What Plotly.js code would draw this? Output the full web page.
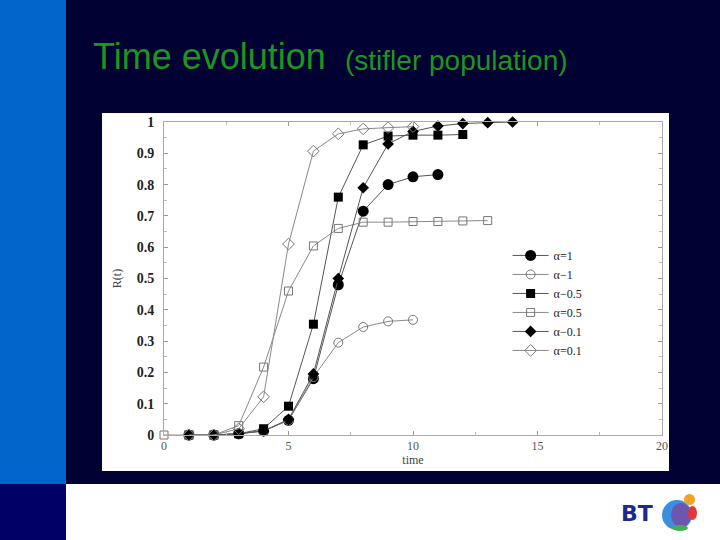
<!DOCTYPE html>
<html>
<head>
<meta charset="utf-8">
<script src="https://cdn.plot.ly/plotly-3.0.1.min.js"></script>
<style>
  html, body { margin: 0; padding: 0; width: 720px; height: 540px; overflow: hidden; background: #ffffff; }
  .blk { position: absolute; }
  #plot { position: absolute; left: 0; top: 0; width: 720px; height: 540px; }
</style>
</head>
<body>
<div class="blk" style="left:0;top:0;width:66px;height:484px;background:#0066cc;"></div>
<div class="blk" style="left:0;top:484px;width:66px;height:56px;background:#000066;"></div>
<div class="blk" style="left:66px;top:0;width:654px;height:484px;background:#000033;"></div>
<div class="blk" style="left:102px;top:113px;width:567px;height:358px;background:#ffffff;"></div>
<!-- BT globe -->
<div class="blk" style="left:662px;top:500px;width:30px;height:30px;border-radius:50%;background:#3b8fe0;"></div>
<div class="blk" style="left:671px;top:503px;width:20px;height:24px;border-radius:50%;background:#6e56b0;"></div>
<div class="blk" style="left:684px;top:494px;width:11px;height:11px;border-radius:50%;background:#f4a224;"></div>
<div class="blk" style="left:688px;top:506px;width:9px;height:14px;border-radius:50%;background:#e2383a;"></div>
<div class="blk" style="left:672px;top:525px;width:16px;height:6px;border-radius:50%;background:#3fb24c;"></div>
<div id="plot"></div>
<script>
// ---- data ----
var seriesNames = ["α=1", "α−1", "α−0.5", "α=0.5", "α−0.1", "α=0.1"];

var tA1  = [1, 2, 3, 4, 5, 6, 7, 8, 9, 10, 11];
var rA1  = [0, 0, 0.004, 0.013, 0.047, 0.18, 0.48, 0.715, 0.80, 0.825, 0.832];

var tAm1 = [1, 2, 3, 4, 5, 6, 7, 8, 9, 10];
var rAm1 = [0, 0, 0.004, 0.013, 0.047, 0.185, 0.295, 0.345, 0.363, 0.368];

var tA05f = [1, 2, 3, 4, 5, 6, 7, 8, 9, 10, 11, 12];
var rA05f = [0, 0, 0.004, 0.02, 0.092, 0.354, 0.76, 0.927, 0.955, 0.958, 0.958, 0.96];

var tA05h = [0, 1, 2, 3, 4, 5, 6, 7, 8, 9, 10, 11, 12, 13];
var rA05h = [0, 0, 0, 0.03, 0.217, 0.46, 0.604, 0.66, 0.68, 0.68, 0.682, 0.682, 0.684, 0.685];

var tA01f = [1, 2, 3, 4, 5, 6, 7, 8, 9, 10, 11, 12, 13, 14];
var rA01f = [0, 0, 0.004, 0.013, 0.05, 0.195, 0.50, 0.79, 0.93, 0.97, 0.987, 0.995, 0.998, 1.0];

var tA01h = [1, 2, 3, 4, 5, 6, 7, 8, 9, 10];
var rA01h = [0, 0, 0.02, 0.122, 0.61, 0.907, 0.962, 0.978, 0.982, 0.985];

var yTicks = [0, 0.1, 0.2, 0.3, 0.4, 0.5, 0.6, 0.7, 0.8, 0.9, 1];
var yTickText = ["0", "0.1", "0.2", "0.3", "0.4", "0.5", "0.6", "0.7", "0.8", "0.9", "1"];
var xTicks = [0, 5, 10, 15, 20];

// ---- traces ----
var darkLine = {color: "#555555", width: 1};
var lightLine = {color: "#8a8a8a", width: 1};

var traces = [
  {x: tA1, y: rA1, name: seriesNames[0], mode: "lines+markers", line: darkLine,
   marker: {symbol: "circle", size: 11, color: "#000000"}},
  {x: tAm1, y: rAm1, name: seriesNames[1], mode: "lines+markers", line: lightLine,
   marker: {symbol: "circle-open", size: 9, color: "#777777", line: {width: 1}}},
  {x: tA05f, y: rA05f, name: seriesNames[2], mode: "lines+markers", line: darkLine,
   marker: {symbol: "square", size: 9, color: "#000000"}},
  {x: tA05h, y: rA05h, name: seriesNames[3], mode: "lines+markers", line: lightLine,
   marker: {symbol: "square-open", size: 8, color: "#777777", line: {width: 1}}},
  {x: tA01f, y: rA01f, name: seriesNames[4], mode: "lines+markers", line: darkLine,
   marker: {symbol: "diamond", size: 9, color: "#000000"}},
  {x: tA01h, y: rA01h, name: seriesNames[5], mode: "lines+markers", line: lightLine,
   marker: {symbol: "diamond-open", size: 9, color: "#777777", line: {width: 1}}}
];
traces.forEach(function (t) { t.cliponaxis = false; });

var layout = {
  width: 720, height: 540,
  margin: {l: 164, r: 58, t: 122, b: 105, pad: 0},
  paper_bgcolor: "rgba(0,0,0,0)",
  plot_bgcolor: "rgba(0,0,0,0)",
  showlegend: true,
  legend: {
    x: 0.69, y: 0.62, xanchor: "left", yanchor: "top",
    bgcolor: "rgba(0,0,0,0)", borderwidth: 0,
    font: {family: "Liberation Serif, serif", size: 12, color: "#222222"},
    itemwidth: 36
  },
  xaxis: {
    range: [0, 20], tickvals: xTicks, ticktext: xTicks.map(String),
    ticks: "inside", ticklen: 4, tickcolor: "#999999",
    minor: {dtick: 2.5, tick0: 0, ticks: "inside", ticklen: 3, tickcolor: "#bbbbbb"},
    showline: true, linecolor: "#aaaaaa", linewidth: 1, mirror: "ticks",
    showgrid: false, zeroline: false,
    tickfont: {family: "Liberation Serif, serif", size: 12, color: "#555555"},
    title: {text: "time", standoff: 2, font: {family: "Liberation Serif, serif", size: 12, color: "#444444"}}
  },
  yaxis: {
    range: [0, 1], tickvals: yTicks, ticktext: yTickText,
    ticks: "inside", ticklen: 4, tickcolor: "#999999",
    minor: {dtick: 0.05, tick0: 0, ticks: "inside", ticklen: 3, tickcolor: "#bbbbbb"},
    showline: true, linecolor: "#aaaaaa", linewidth: 1, mirror: "ticks",
    showgrid: false, zeroline: false,
    ticklabelstandoff: 6,
    tickfont: {family: "Liberation Serif, serif", size: 14, color: "#222222", weight: "bold"},
    title: {text: "R(t)", standoff: 12, font: {family: "Liberation Serif, serif", size: 12, color: "#444444"}}
  },
  annotations: [
    {text: "Time evolution", xref: "paper", yref: "paper", x: -0.146, y: 1.208,
     xanchor: "left", yanchor: "middle", showarrow: false,
     font: {family: "Liberation Sans, Arial, sans-serif", size: 36, color: "#1c961c"}},
    {text: "(stifler population)", xref: "paper", yref: "paper", x: 0.36, y: 1.196,
     xanchor: "left", yanchor: "middle", showarrow: false,
     font: {family: "Liberation Sans, Arial, sans-serif", size: 28, color: "#1c961c"}},
    {text: "<b>BT</b>", xref: "paper", yref: "paper", x: 0.95, y: -0.252,
     xanchor: "center", yanchor: "middle", showarrow: false,
     font: {family: "DejaVu Sans, sans-serif", size: 22, color: "#1b2a8c"}}
  ]
};

Plotly.newPlot("plot", traces, layout, {staticPlot: true, displayModeBar: false});
</script>
</body>
</html>
